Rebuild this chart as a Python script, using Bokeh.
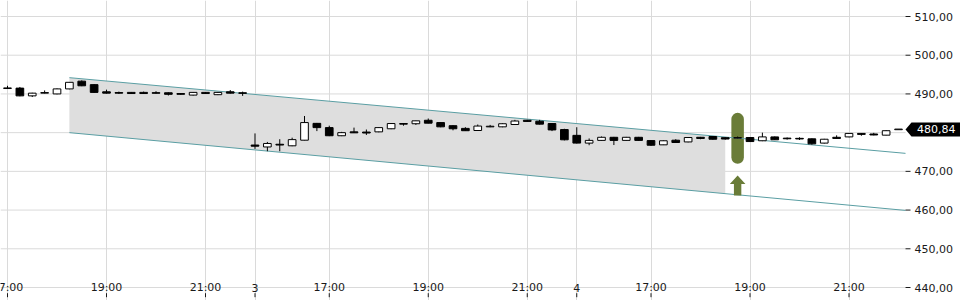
from bokeh.plotting import figure
from bokeh.models import Range1d, FixedTicker, ColumnDataSource
from bokeh.core.properties import value
from bokeh.embed import file_html
from bokeh.resources import INLINE

# ---------------- data (15-minute candles, continuous trading-slot index) ----------------
IDX = list(range(73))
OPEN = [491.45, 491.5, 489.5, 490.2, 490.0, 491.3, 493.3, 492.4, 490.55, 490.3,
        490.4, 490.4, 490.3, 490.3, 490.1, 489.7, 490.4, 489.8, 490.55, 490.25,
        476.8, 476.3, 477.0, 476.6, 478.05, 482.4, 481.3, 479.2, 480.2, 480.15,
        480.2, 481.0, 482.35, 482.3, 483.2, 482.6, 481.8, 481.1, 480.55, 481.5,
        481.5, 482.1, 483.2, 482.95, 482.35, 480.8, 479.3, 477.3, 478.0, 478.8,
        478.0, 478.8, 477.95, 476.85, 478.05, 477.6, 478.8, 479.0, 478.7, 478.6,
        478.74, 477.9, 478.9, 478.55, 478.5, 478.4, 477.3, 478.8, 478.9, 479.8,
        479.65, 479.35, 480.84]
HIGH = [492.1, 491.8, 490.3, 490.9, 491.4, 493.0, 493.5, 492.5, 491.1, 490.6,
        490.5, 490.6, 490.7, 490.4, 490.2, 490.5, 490.5, 490.5, 491.0, 490.6,
        479.8, 477.6, 478.3, 478.7, 484.3, 482.5, 481.8, 480.2, 481.3, 480.8,
        481.4, 482.4, 482.4, 483.1, 483.65, 482.7, 481.9, 481.4, 482.1, 482.0,
        482.4, 483.3, 483.3, 483.3, 482.4, 481.0, 481.4, 478.5, 479.0, 478.9,
        478.9, 478.9, 478.0, 478.0, 478.3, 478.8, 478.9, 479.1, 478.8, 479.0,
        478.8, 480.0, 479.0, 478.75, 478.8, 478.5, 478.4, 479.3, 479.9, 479.9,
        479.95, 480.6, 480.84]
LOW = [491.4, 489.4, 489.2, 490.1, 489.9, 491.2, 492.0, 490.3, 490.1, 490.0,
       490.0, 490.0, 490.1, 489.6, 489.8, 489.6, 490.0, 489.7, 490.1, 489.5,
       475.8, 475.2, 475.2, 476.5, 478.0, 480.4, 479.1, 479.1, 479.9, 479.4,
       480.1, 480.9, 481.8, 482.0, 482.4, 481.4, 480.6, 480.45, 480.5, 481.4,
       481.4, 482.0, 482.8, 482.1, 480.4, 478.0, 477.2, 476.75, 477.9, 476.8,
       477.9, 477.9, 476.6, 476.8, 477.4, 477.5, 478.3, 478.2, 478.2, 478.5,
       477.6, 477.8, 478.1, 478.2, 478.1, 476.9, 477.2, 478.4, 478.8, 479.2,
       479.3, 479.3, 480.84]
CLOSE = [491.5, 489.5, 490.2, 490.35, 491.3, 493.0, 492.1, 490.4, 490.2, 490.25,
         490.1, 490.1, 490.2, 489.9, 489.9, 490.4, 490.1, 490.4, 490.2, 490.2,
         476.5, 477.2, 476.8, 478.2, 482.6, 481.3, 479.2, 480.0, 479.95, 479.9,
         481.3, 482.35, 482.2, 483.05, 482.45, 481.5, 481.0, 480.5, 481.7, 481.65,
         482.3, 483.0, 482.9, 482.2, 480.7, 478.15, 477.3, 478.0, 478.8, 478.0,
         478.8, 478.0, 476.75, 477.9, 477.45, 478.74, 478.5, 478.3, 478.35, 478.7,
         477.7, 478.9, 478.15, 478.45, 478.4, 477.1, 478.3, 478.5, 479.8, 479.55,
         479.4, 480.5, 480.84]

X_TICK_IDX = [0, 8, 16, 20, 26, 34, 42, 46, 52, 60, 68]
X_TICK_LABELS = ["17:00", "19:00", "21:00", "3", "17:00", "19:00", "21:00",
                 "4", "17:00", "19:00", "21:00"]
Y_GRID = [440, 450, 460, 470, 480, 490, 500, 510]
Y_LABELED = [440, 450, 460, 470, 490, 500, 510]
Y_LABEL_TEXT = ["440,00", "450,00", "460,00", "470,00", "490,00", "500,00", "510,00"]

CHANNEL_X = [5, 80]
CHANNEL_UPPER = [494.2, 472.5]
CHANNEL_LOWER = [480.0, 457.7]
CHANNEL_FILL_END = 58

SIGNAL_IDX = 59
SIGNAL_BAR = [483.5, 473.55]
SIGNAL_ARROW = [468.9, 463.75]

LAST_PRICE = 480.84

# ---------------- layout constants ----------------
PX_X = 12.375                      # px per 15-min slot
PX_Y = 271 / 70                    # px per price unit
X_START = -7 / PX_X                # left edge of the canvas
X_EDGE = X_START + 905 / PX_X      # right edge of the chart area
X_RIGHT = X_START + 960 / PX_X     # right edge of the canvas (price scale area)
Y_END = 510 + 16 / PX_Y
Y_START = Y_END - 300 / PX_Y

GREEN = "#6a7c38"
TEAL = "#5a9ea3"
GRID = "#dadada"
INK = "#1a1a1a"
FONT = "DejaVu Sans"

p = figure(x_range=Range1d(X_START, X_RIGHT), y_range=Range1d(Y_START, Y_END),
           frame_width=960, frame_height=300,
           x_axis_location=None, y_axis_location=None,
           toolbar_location=None, output_backend="svg",
           outline_line_color=None, background_fill_color="white",
           border_fill_color="white", min_border=0)

# vertical grid (library grid), horizontal grid limited to the chart area
p.xgrid.ticker = FixedTicker(ticks=X_TICK_IDX)
p.xgrid.grid_line_color = GRID
p.ygrid.visible = False
p.segment(x0=[X_START] * len(Y_GRID), y0=Y_GRID, x1=[X_EDGE] * len(Y_GRID), y1=Y_GRID,
          line_color=GRID, line_width=1)


def interp(xs, ys, x):
    return ys[0] + (ys[1] - ys[0]) * (x - xs[0]) / (xs[1] - xs[0])


# channel fill
fx0, fx1 = CHANNEL_X[0], CHANNEL_FILL_END
p.patch([fx0, fx1, fx1, fx0],
        [CHANNEL_UPPER[0], interp(CHANNEL_X, CHANNEL_UPPER, fx1),
         interp(CHANNEL_X, CHANNEL_LOWER, fx1), CHANNEL_LOWER[0]],
        fill_color="#dedede", line_color=None)

# signal bar (pill)
p.segment(x0=[SIGNAL_IDX], y0=[SIGNAL_BAR[0]], x1=[SIGNAL_IDX], y1=[SIGNAL_BAR[1]],
          line_color=GREEN, line_width=12.5, line_cap="round")

# channel lines, ending at the chart edge
p.line([CHANNEL_X[0], X_EDGE],
       [CHANNEL_UPPER[0], interp(CHANNEL_X, CHANNEL_UPPER, X_EDGE)],
       line_color=TEAL, line_width=1)
p.line([CHANNEL_X[0], X_EDGE],
       [CHANNEL_LOWER[0], interp(CHANNEL_X, CHANNEL_LOWER, X_EDGE)],
       line_color=TEAL, line_width=1)

# candles
min_h = 0.6 / PX_Y
tops, bottoms, fills = [], [], []
for o, c in zip(OPEN, CLOSE):
    t, b = max(o, c), min(o, c)
    if t - b < min_h:
        m = (t + b) / 2
        t, b = m + min_h / 2, m - min_h / 2
    tops.append(t)
    bottoms.append(b)
    fills.append("white" if c >= o else "black")
src = ColumnDataSource(dict(x=IDX, high=HIGH, low=LOW, top=tops, bottom=bottoms, fill=fills))
p.segment(x0="x", y0="high", x1="x", y1="low", source=src, line_color="black", line_width=1)
p.vbar(x="x", width=0.62, top="top", bottom="bottom", fill_color="fill",
       line_color="black", line_width=1, source=src)

# signal arrow
hw, sw = 7.8 / PX_X, 3.7 / PX_X
tip, base = SIGNAL_ARROW
head = tip - 8.3 / PX_Y
s = SIGNAL_IDX
p.patch([s, s + hw, s + sw, s + sw, s - sw, s - sw, s - hw],
        [tip, head, head, base, base, head, head],
        fill_color=GREEN, line_color=None)

# x-axis labels drawn on the bottom gridline, with little ticks below
n = len(X_TICK_IDX)
p.text(x=X_TICK_IDX, y=[Y_GRID[0]] * n, text=X_TICK_LABELS,
       text_align="center", text_baseline="middle",
       text_font=value(FONT), text_font_size="11px", text_color=INK)
p.segment(x0=X_TICK_IDX, y0=[Y_GRID[0] - 5.7 / PX_Y] * n,
          x1=X_TICK_IDX, y1=[Y_GRID[0] - 9.7 / PX_Y] * n,
          line_color=INK, line_width=1)

# price scale on the right
m = len(Y_LABELED)
p.segment(x0=[X_EDGE] * m, y0=Y_LABELED, x1=[X_EDGE + 5 / PX_X] * m, y1=Y_LABELED,
          line_color=INK, line_width=1)
p.text(x=[X_EDGE + 9 / PX_X] * m, y=Y_LABELED, text=Y_LABEL_TEXT,
       text_align="left", text_baseline="middle",
       text_font=value(FONT), text_font_size="11px", text_color=INK)

# last price tag
half = 7 / PX_Y
tag_l = X_EDGE + 6 / PX_X
p.patch([X_EDGE, tag_l, X_RIGHT, X_RIGHT, tag_l],
        [LAST_PRICE, LAST_PRICE + half, LAST_PRICE + half,
         LAST_PRICE - half, LAST_PRICE - half],
        fill_color="black", line_color=None)
p.text(x=[X_EDGE + 11.5 / PX_X], y=[LAST_PRICE],
       text=[f"{LAST_PRICE:.2f}".replace(".", ",")],
       text_align="left", text_baseline="middle",
       text_font=value(FONT), text_font_size="11px", text_color="white")

open("out.html", "w").write(file_html(p, INLINE))
